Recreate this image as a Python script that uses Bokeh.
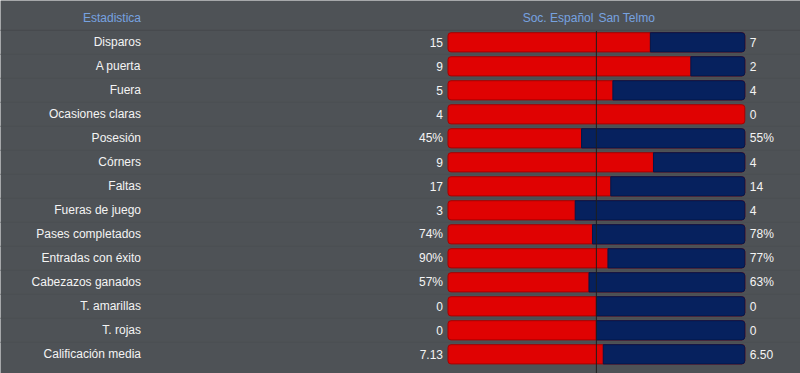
from bokeh.plotting import figure
from bokeh.models import ColumnDataSource, Range1d, CDSView, BooleanFilter
from bokeh.core.properties import value
from bokeh.embed import file_html
from bokeh.resources import INLINE

# ---- data ----
stats = ["Disparos", "A puerta", "Fuera", "Ocasiones claras", "Posesión", "Córners",
         "Faltas", "Fueras de juego", "Pases completados", "Entradas con éxito",
         "Cabezazos ganados", "T. amarillas", "T. rojas", "Calificación media"]
home_vals = [15, 9, 5, 4, 45, 9, 17, 3, 74, 90, 57, 0, 0, 7.13]
away_vals = [7, 2, 4, 0, 55, 4, 14, 4, 78, 77, 63, 0, 0, 6.50]
home_labels = ["15", "9", "5", "4", "45%", "9", "17", "3", "74%", "90%", "57%", "0", "0", "7.13"]
away_labels = ["7", "2", "4", "0", "55%", "4", "14", "4", "78%", "77%", "63%", "0", "0", "6.50"]
home_team = "Soc. Español"
away_team = "San Telmo"
header_label = "Estadistica"

rows = list(range(len(stats)))
frac = [h / (h + a) if (h + a) > 0 else 0.5 for h, a in zip(home_vals, away_vals)]

src = ColumnDataSource(dict(
    y=rows, stat=stats, frac=frac, one=[1.0] * len(rows), zero=[0.0] * len(rows),
    hl=home_labels, al=away_labels,
))

BG = "#4e5256"
W, H = 800, 373
p = figure(width=W, height=H, output_backend="svg", toolbar_location=None,
           x_range=Range1d(-1.5077, 1.1877), y_range=Range1d(13.80, -1.742),
           min_border=0, background_fill_color=BG, border_fill_color=BG,
           outline_line_color=None)
p.axis.visible = False
p.grid.visible = False

# row separators
sep_y = [r - 0.5 for r in rows[1:]]
p.segment(x0=-2, x1=2, y0=sep_y, y1=sep_y, line_color="#4b4f53", line_width=1)
p.segment(x0=[-2], x1=[2], y0=[-0.5], y1=[-0.5], line_color="#46494d", line_width=1)

font = value("Liberation Sans")

# bars: full red background, blue overlay for away share
p.hbar(y="y", left="zero", right="one", height=0.8, source=src,
       fill_color="#e00202", line_color="#a80000", line_width=1,
       border_radius=3)
away_view = CDSView(filter=BooleanFilter([f < 1 for f in frac]))
p.hbar(y="y", left="frac", right="one", height=0.8, source=src, view=away_view,
       fill_color="#06215e", line_color="#03184a", line_width=1,
       border_radius=(0, 3, 3, 0))

# centre line
p.segment(x0=[0.5], x1=[0.5], y0=[-0.47], y1=[14.0], line_color="#1e1e1e", line_width=1)

# labels
p.text(x="zero", y="y", text="stat", source=src, x_offset=-307,
       text_align="right", text_baseline="middle", text_font=font,
       text_font_size="12px", text_color="#f4f4f4")
p.text(x="zero", y="y", text="hl", source=src, x_offset=-5,
       text_align="right", text_baseline="middle", text_font=font,
       text_font_size="12px", text_color="#f4f4f4")
p.text(x="one", y="y", text="al", source=src, x_offset=5,
       text_align="left", text_baseline="middle", text_font=font,
       text_font_size="12px", text_color="#f4f4f4")

# header
hdr_color = "#77a2e0"
p.text(x=[0], y=[-1], text=[header_label], x_offset=-307,
       text_align="right", text_baseline="middle", text_font=font,
       text_font_size="12px", text_color=hdr_color)
p.text(x=[0.5], y=[-1], text=[home_team], x_offset=-3,
       text_align="right", text_baseline="middle", text_font=font,
       text_font_size="12px", text_color=hdr_color)
p.text(x=[0.5], y=[-1], text=[away_team], x_offset=2,
       text_align="left", text_baseline="middle", text_font=font,
       text_font_size="12px", text_color=hdr_color)

open("out.html", "w").write(file_html(p, INLINE))
